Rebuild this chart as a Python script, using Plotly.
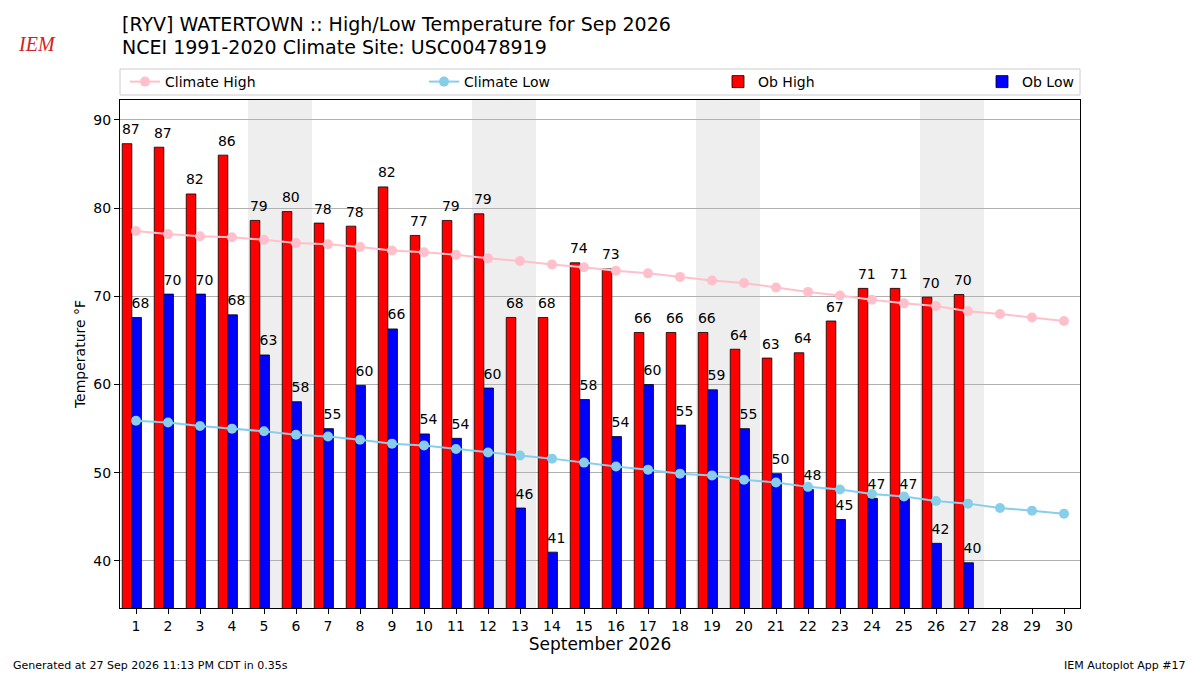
import plotly.graph_objects as go

days = list(range(1, 31))
ob_days = list(range(1, 28))
ob_high = [87.3, 86.9, 81.6, 86.0, 78.6, 79.6, 78.3, 77.95, 82.4, 76.9, 78.6, 79.35,
           67.6, 67.6, 73.8, 73.1, 65.9, 65.9, 65.9, 64.0, 63.0, 63.6, 67.2, 70.9,
           70.9, 69.9, 70.2]
ob_low = [67.6, 70.25, 70.25, 67.9, 63.35, 58.05, 55.0, 59.9, 66.3, 54.4, 53.9, 59.6,
          46.0, 41.0, 58.3, 54.1, 60.0, 55.4, 59.4, 55.0, 49.9, 48.1, 44.7, 47.1,
          47.1, 42.0, 39.8]
clim_high = [77.4, 77.05, 76.8, 76.7, 76.4, 76.05, 75.9, 75.6, 75.2, 75.0, 74.7, 74.3,
             74.0, 73.6, 73.3, 72.9, 72.6, 72.2, 71.8, 71.5, 71.0, 70.5, 70.1, 69.6,
             69.2, 68.9, 68.3, 68.0, 67.6, 67.2]
clim_low = [55.9, 55.7, 55.3, 55.0, 54.7, 54.3, 54.1, 53.75, 53.3, 53.1, 52.7, 52.3,
            51.95, 51.6, 51.15, 50.7, 50.35, 49.9, 49.7, 49.2, 48.9, 48.4, 48.1, 47.6,
            47.3, 46.8, 46.5, 46.0, 45.7, 45.35]
weekend_start = [5, 12, 19, 26]
tick_vals = [40, 50, 60, 70, 80, 90]
title_lines = ["[RYV] WATERTOWN :: High/Low Temperature for Sep 2026",
               "NCEI 1991-2020 Climate Site: USC00478919"]

HI_OFF, LO_OFF, BW, LBL = -0.28, 0.02, 0.3, 0.12
FONT = "DejaVu Sans"
PH = 508.0  # plot height px
PW = 960.0  # plot width px

fig = go.Figure()

for d in weekend_start:
    fig.add_shape(type="rect", xref="x", yref="paper", x0=d - 0.5, x1=d + 1.5,
                  y0=0, y1=1, fillcolor="#eeeeee", line_width=0, layer="below")

fig.add_trace(go.Bar(x=[d + HI_OFF for d in ob_days], y=ob_high, width=BW,
                     marker=dict(color="red", line=dict(color="black", width=0.8)),
                     name="Ob High", legend="legend3"))
fig.add_trace(go.Bar(x=[d + LO_OFF for d in ob_days], y=ob_low, width=BW,
                     marker=dict(color="blue", line=dict(color="black", width=0.8)),
                     name="Ob Low", legend="legend4"))
fig.add_trace(go.Scatter(x=days, y=clim_high, mode="lines+markers", name="Climate High",
                         line=dict(color="pink", width=2), marker=dict(color="pink", size=10),
                         legend="legend"))
fig.add_trace(go.Scatter(x=days, y=clim_low, mode="lines+markers", name="Climate Low",
                         line=dict(color="skyblue", width=2), marker=dict(color="skyblue", size=10),
                         legend="legend2"))
for offs, vals in ((HI_OFF, ob_high), (LO_OFF, ob_low)):
    fig.add_trace(go.Scatter(x=[d + offs + LBL for d in ob_days], y=vals, mode="markers+text",
                             text=[f"{round(v)}" for v in vals], textposition="top center",
                             marker=dict(size=8, opacity=0),
                             textfont=dict(family=FONT, size=14, color="black"),
                             showlegend=False, hoverinfo="skip", cliponaxis=False))

# legend frame
fig.add_shape(type="rect", xref="paper", yref="paper", x0=0, x1=1,
              y0=1 + 5 / PH, y1=1 + 31 / PH, line=dict(color="#cccccc", width=1),
              fillcolor="white", layer="below")

leg_common = dict(orientation="h", yref="paper", y=1 + 18 / PH, yanchor="middle",
                  xanchor="left", bgcolor="rgba(0,0,0,0)", borderwidth=0,
                  font=dict(family=FONT, size=14, color="black"))
fig.update_layout(
    legend=dict(x=5 / PW, **leg_common),
    legend2=dict(x=(424 - 120) / PW, **leg_common),
    legend3=dict(x=(718 - 120) / PW, **leg_common),
    legend4=dict(x=(982 - 120) / PW, **leg_common),
)

fig.update_layout(
    width=1200, height=675,
    margin=dict(l=120, r=120, t=100, b=67),
    paper_bgcolor="white", plot_bgcolor="white",
    font=dict(family=FONT, size=14, color="black"),
    barmode="overlay",
    xaxis=dict(range=[0.5, 30.5], tickmode="array", tickvals=days,
               ticktext=[str(d) for d in days], ticks="outside", ticklen=5, tickcolor="black",
               showline=True, linecolor="black", linewidth=1.2, mirror=True, showgrid=False,
               zeroline=False, tickfont=dict(family=FONT, size=14),
               title=dict(text="September 2026", font=dict(family=FONT, size=17), standoff=5)),
    yaxis=dict(range=[34.67, 92.25], tickmode="array", tickvals=tick_vals,
               ticks="outside", ticklen=5, tickcolor="black",
               showline=True, linecolor="black", linewidth=1.2, mirror=True,
               showgrid=True, gridcolor="#b0b0b0", gridwidth=1, zeroline=False,
               tickfont=dict(family=FONT, size=14),
               title=dict(text="Temperature °F", font=dict(family=FONT, size=14), standoff=4)),
)

for i, line in enumerate(title_lines):
    fig.add_annotation(text=line, xref="paper", yref="paper", x=0,
                       y=1 + (100 - (24 + 23 * i)) / PH, xanchor="left", yanchor="middle",
                       showarrow=False, font=dict(family=FONT, size=19, color="black"))

fig.add_annotation(text="<i>IEM</i>", xref="paper", yref="paper",
                   x=(37 - 120) / PW, y=1 + (100 - 44) / PH, xanchor="center", yanchor="middle",
                   showarrow=False, font=dict(family="Liberation Serif", size=20, color="#d42020"))
fig.add_annotation(text="Generated at 27 Sep 2026 11:13 PM CDT in 0.35s", xref="paper", yref="paper",
                   x=(11 - 120) / PW, y=(608 - 665) / PH, xanchor="left", yanchor="middle",
                   showarrow=False, font=dict(family=FONT, size=11, color="black"))
fig.add_annotation(text="IEM Autoplot App #17", xref="paper", yref="paper",
                   x=1 + (1188 - 1080) / PW, y=(608 - 665) / PH, xanchor="right", yanchor="middle",
                   showarrow=False, font=dict(family=FONT, size=11, color="black"))

fig.write_html("out.html", config={"displayModeBar": False},
               post_script="document.body.style.margin='0';document.body.style.overflow='hidden';")
